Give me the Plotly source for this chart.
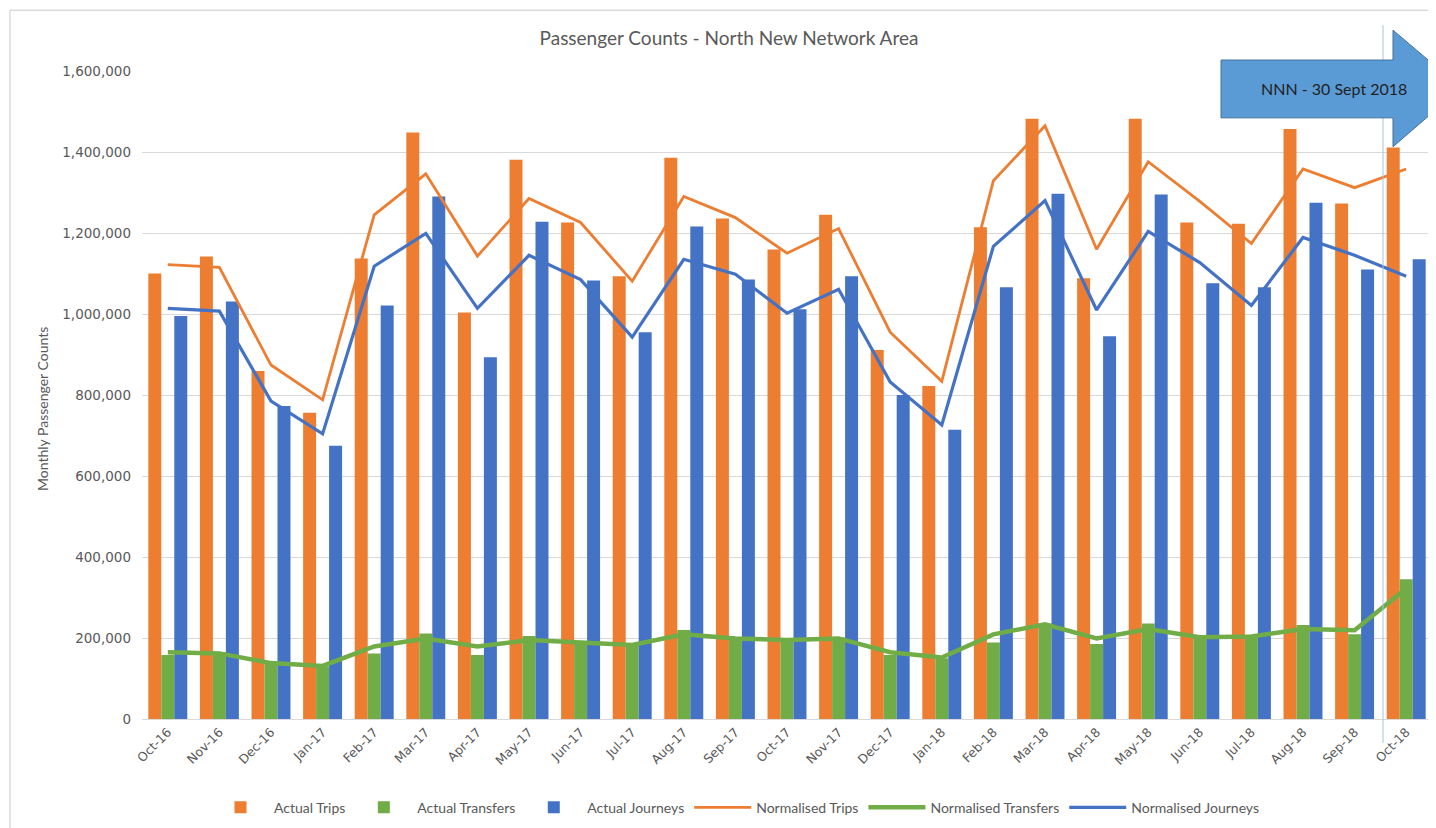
import plotly.graph_objects as go

months = ["Oct-16", "Nov-16", "Dec-16", "Jan-17", "Feb-17", "Mar-17", "Apr-17", "May-17",
          "Jun-17", "Jul-17", "Aug-17", "Sep-17", "Oct-17", "Nov-17", "Dec-17", "Jan-18",
          "Feb-18", "Mar-18", "Apr-18", "May-18", "Jun-18", "Jul-18", "Aug-18", "Sep-18", "Oct-18"]

actual_trips = [1100000, 1142000, 859000, 756000, 1137000, 1448000, 1004000, 1381000,
                1226000, 1093000, 1386000, 1236000, 1159000, 1245000, 911000, 822000,
                1214000, 1482000, 1088000, 1482000, 1226000, 1223000, 1457000, 1273000, 1411000]

actual_transfers = [158000, 165000, 137000, 130000, 162000, 211000, 158000, 205000,
                    192000, 183000, 220000, 201000, 195000, 201000, 158000, 150000,
                    189000, 236000, 185000, 236000, 204000, 207000, 232000, 209000, 345000]

actual_journeys = [995000, 1031000, 773000, 675000, 1021000, 1290000, 893000, 1228000,
                   1083000, 955000, 1216000, 1085000, 1012000, 1093000, 800000, 714000,
                   1066000, 1297000, 945000, 1295000, 1076000, 1066000, 1275000, 1110000, 1135000]

norm_trips = [1122000, 1115000, 874000, 788000, 1245000, 1346000, 1143000, 1285000,
              1226000, 1081000, 1290000, 1238000, 1150000, 1211000, 955000, 834000,
              1329000, 1465000, 1160000, 1376000, 1278000, 1174000, 1358000, 1312000, 1358000]

norm_transfers = [165000, 162000, 138000, 131000, 179000, 199000, 179000, 195000,
                  189000, 183000, 209000, 199000, 195000, 199000, 165000, 152000,
                  209000, 234000, 199000, 222000, 202000, 204000, 222000, 219000, 322000]

norm_journeys = [1014000, 1007000, 785000, 704000, 1118000, 1199000, 1014000, 1145000,
                 1085000, 943000, 1135000, 1098000, 1002000, 1061000, 832000, 726000,
                 1167000, 1280000, 1010000, 1204000, 1127000, 1021000, 1189000, 1145000, 1093000]

y_ticks = [0, 200000, 400000, 600000, 800000, 1000000, 1200000, 1400000, 1600000]

ORANGE = "#ED7D31"
GREEN = "#70AD47"
BLUE = "#4472C4"
GREY = "#595959"

fig = go.Figure()
fig.add_trace(go.Bar(name="Actual Trips", x=months, y=actual_trips, marker_color=ORANGE, marker_line_width=0))
fig.add_trace(go.Bar(name="Actual Transfers", x=months, y=actual_transfers, marker_color=GREEN, marker_line_width=0))
fig.add_trace(go.Bar(name="Actual Journeys", x=months, y=actual_journeys, marker_color=BLUE, marker_line_width=0))
fig.add_trace(go.Scatter(name="Normalised Trips", x=months, y=norm_trips, mode="lines",
                         line=dict(color=ORANGE, width=2.8)))
fig.add_trace(go.Scatter(name="Normalised Transfers", x=months, y=norm_transfers, mode="lines",
                         line=dict(color=GREEN, width=4.5)))
fig.add_trace(go.Scatter(name="Normalised Journeys", x=months, y=norm_journeys, mode="lines",
                         line=dict(color=BLUE, width=3.2)))

# page pixel -> paper helpers (plot area on page: x 142..1432, y 71..721)
def px(xp):
    return (xp - 142) / 1290.0

def py(yp):
    return (721 - yp) / 650.0

shapes = [
    # outer chart frame
    dict(type="rect", xref="paper", yref="paper", x0=px(10), x1=px(1445), y0=py(836), y1=py(10),
         line=dict(color="#C9C9C9", width=1), fillcolor="rgba(0,0,0,0)", layer="below"),
    # vertical marker line
    dict(type="line", xref="paper", yref="paper", x0=px(1383), x1=px(1383), y0=py(745), y1=py(25),
         line=dict(color="#A8C3E3", width=1)),
    # arrow
    dict(type="path", xref="paper", yref="paper",
         path="M {a},{t} L {b},{t} L {b},{tt} L {c},{m} L {b},{bb} L {b},{bo} L {a},{bo} Z".format(
             a=px(1221), b=px(1393), c=px(1461), t=py(60), tt=py(30), m=py(88), bb=py(147), bo=py(118)),
         fillcolor="#5B9BD5", line=dict(color="#41719C", width=1)),
]

annotations = [
    dict(text="NNN - 30 Sept 2018", xref="paper", yref="paper", x=px(1334), y=py(89),
         showarrow=False, font=dict(family="Lato", size=16, color="#1F1F1F"),
         xanchor="center", yanchor="middle"),
    dict(text="Monthly Passenger Counts", xref="paper", yref="paper", x=px(43), y=py(410),
         showarrow=False, textangle=-90, font=dict(family="Lato", size=14, color=GREY),
         xanchor="center", yanchor="middle"),
]

# the page body adds an 8px margin, so the figure is 8px smaller than the window
W, H = 1428, 820
fig.update_layout(
    width=W, height=H,
    margin=dict(l=134, r=4, t=63, b=107),
    paper_bgcolor="white", plot_bgcolor="white",
    title=dict(text="Passenger Counts - North New Network Area", x=721 / W, y=1 - 30 / H,
               xanchor="center", yanchor="middle",
               font=dict(family="Lato", size=19, color=GREY)),
    barmode="group", bargap=0.245, bargroupgap=0,
    showlegend=True,
    legend=dict(orientation="h", x=px(736), y=py(810), xanchor="center", yanchor="middle",
                font=dict(family="Lato", size=14, color=GREY), traceorder="normal",
                itemwidth=57),
    shapes=shapes, annotations=annotations,
    xaxis=dict(type="category", tickangle=-45, showgrid=False, showline=True,
               linecolor="#D9D9D9", linewidth=1, ticks="",
               tickfont=dict(family="DejaVu Sans", size=12.5, color=GREY)),
    yaxis=dict(range=[0, 1600000], tickvals=y_ticks, tickformat=",", showgrid=True,
               gridcolor="#D9D9D9", gridwidth=1, zeroline=False, showline=False, ticks="",
               ticklabelstandoff=10,
               tickfont=dict(family="DejaVu Sans", size=13.5, color=GREY)),
)

fig.write_html("out.html")
